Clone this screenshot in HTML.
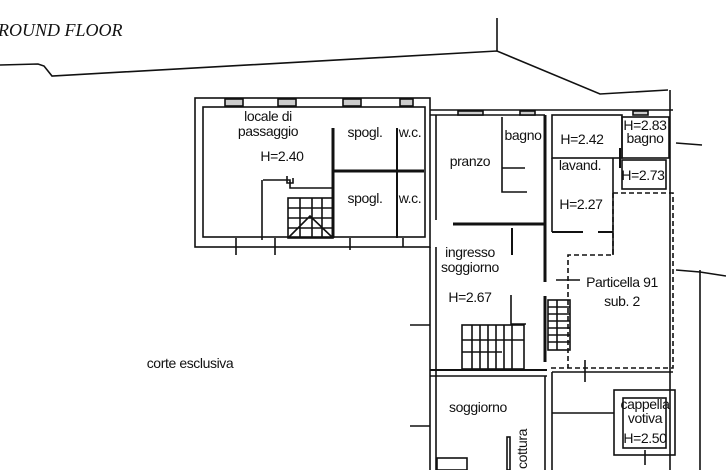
<!DOCTYPE html>
<html><head><meta charset="utf-8"><style>
html,body{margin:0;padding:0;background:#fff;width:726px;height:470px;overflow:hidden}
svg{display:block}
text{font-family:"Liberation Sans",sans-serif;font-size:14px;fill:#111;letter-spacing:-0.4px}
</style></head><body>
<svg width="726" height="470" viewBox="0 0 726 470" xmlns="http://www.w3.org/2000/svg">
<text x="-2" y="36" style="font-family:'Liberation Serif',serif;font-style:italic;font-size:18px;letter-spacing:0">ROUND FLOOR</text>
<g fill="none" stroke="#111" stroke-width="1.6">
<polyline points="0,65 38,64 44,66 52,76 497,51 600,94 668,90"/>
<line x1="497" y1="18" x2="497" y2="51"/>
<line x1="670" y1="90" x2="670" y2="470"/>
<line x1="700" y1="270" x2="700" y2="470"/>
<polyline points="676,270 700,272 726,276"/>
<line x1="676" y1="143" x2="702" y2="145"/>
<rect x="195" y="98" width="235" height="149"/>
<rect x="203" y="107" width="222" height="130"/>
<rect x="225" y="99" width="18" height="7" fill="#ccc"/>
<rect x="278" y="99" width="18" height="7" fill="#ccc"/>
<rect x="343" y="99" width="18" height="7" fill="#ccc"/>
<rect x="400" y="99" width="13" height="7" fill="#ccc"/>
<line x1="333" y1="128" x2="333" y2="238" stroke-width="3"/>
<line x1="333" y1="171" x2="424" y2="171" stroke-width="3"/>
<line x1="397" y1="128" x2="397" y2="238" stroke-width="2"/>
<line x1="262" y1="180" x2="262" y2="240"/>
<polyline points="287,176 287,183 293,183 293,178"/>
<polyline points="263,180 290,180 290,188 334,188"/>
<rect x="288" y="198" width="45" height="40"/>
<path d="M288,208h45M288,218h45M288,228h45M300,198v40M312,198v40M322,198v40M288,238l22,-22l23,22"/>
<line x1="236" y1="238" x2="236" y2="255"/><line x1="275" y1="238" x2="275" y2="255"/>
<line x1="350" y1="238" x2="350" y2="250"/>
<line x1="403" y1="238" x2="403" y2="247"/>
<polyline points="430,247 430,470"/>
<polyline points="436,247 436,470"/>
<line x1="430" y1="110" x2="673" y2="110"/>
<line x1="430" y1="115" x2="545" y2="115"/>
<line x1="436" y1="115" x2="436" y2="220"/>
<rect x="458" y="111" width="25" height="4" fill="#ccc"/>
<rect x="520" y="111" width="15" height="4" fill="#ccc"/>
<rect x="633" y="111" width="15" height="4" fill="#ccc"/>
<polyline points="502,117 502,192 527,192"/>
<line x1="502" y1="168" x2="525" y2="168"/>
<line x1="545" y1="115" x2="545" y2="282" stroke-width="3"/>
<line x1="453" y1="224" x2="545" y2="224" stroke-width="3"/>
<line x1="512" y1="228" x2="512" y2="255" stroke-width="2"/>
<rect x="552" y="115" width="70" height="43"/>
<line x1="552" y1="158" x2="552" y2="232"/>
<line x1="613" y1="158" x2="613" y2="255"/>
<line x1="552" y1="232" x2="583" y2="232" stroke-width="2"/>
<line x1="598" y1="232" x2="613" y2="232" stroke-width="2"/>
<rect x="622" y="117" width="47" height="41"/>
<line x1="620" y1="148" x2="620" y2="168" stroke-width="2"/>
<rect x="622" y="160" width="44" height="29"/>
<polyline points="613,193 673,193 673,368 548,368" stroke-dasharray="5,3"/>
<polyline points="613,193 613,255 568,255 568,368" stroke-dasharray="5,3"/>
<line x1="556" y1="280" x2="580" y2="280"/>
<rect x="548" y="300" width="22" height="50"/>
<path d="M548,307h22M548,314h22M548,321h22M548,328h22M548,335h22M548,342h22M557,300v50"/>
<line x1="545" y1="296" x2="545" y2="362" stroke-width="3"/>
<polyline points="511,295 511,324 526,324"/>
<rect x="462" y="325" width="62" height="44"/>
<path d="M472,325v44M480,325v44M488,325v44M496,325v44M504,325v44M512,325v44M462,340h62M462,352h40"/>
<line x1="430" y1="370" x2="547" y2="370" stroke-width="2"/>
<line x1="430" y1="376" x2="547" y2="376"/>
<line x1="410" y1="325" x2="430" y2="325"/>
<line x1="410" y1="426" x2="430" y2="426"/>
<line x1="545" y1="376" x2="545" y2="470"/>
<line x1="552" y1="372" x2="552" y2="470"/>
<line x1="552" y1="372" x2="673" y2="372"/>
<line x1="552" y1="413" x2="614" y2="413"/>
<line x1="585" y1="360" x2="585" y2="382"/>
<rect x="507" y="437" width="3" height="33"/>
<rect x="437" y="458" width="30" height="12"/>
<rect x="614" y="390" width="61" height="65"/>
<rect x="623" y="398" width="43" height="50"/>
<line x1="645" y1="450" x2="645" y2="465"/>
</g>
<text x="268" y="121" text-anchor="middle">locale di</text>
<text x="268" y="136" text-anchor="middle">passaggio</text>
<text x="282" y="161" text-anchor="middle">H=2.40</text>
<text x="365" y="137" text-anchor="middle">spogl.</text>
<text x="410" y="137" text-anchor="middle">w.c.</text>
<text x="365" y="203" text-anchor="middle">spogl.</text>
<text x="410" y="203" text-anchor="middle">w.c.</text>
<text x="470" y="166" text-anchor="middle">pranzo</text>
<text x="523" y="140" text-anchor="middle">bagno</text>
<text x="582" y="144" text-anchor="middle">H=2.42</text>
<text x="645" y="130" text-anchor="middle">H=2.83</text>
<text x="645" y="143" text-anchor="middle">bagno</text>
<text x="580" y="170" text-anchor="middle">lavand.</text>
<text x="643" y="180" text-anchor="middle">H=2.73</text>
<text x="581" y="209" text-anchor="middle">H=2.27</text>
<text x="470" y="257" text-anchor="middle">ingresso</text>
<text x="470" y="272" text-anchor="middle">soggiorno</text>
<text x="470" y="302" text-anchor="middle">H=2.67</text>
<text x="622" y="287" text-anchor="middle">Particella 91</text>
<text x="622" y="306" text-anchor="middle">sub. 2</text>
<text x="190" y="368" text-anchor="middle">corte esclusiva</text>
<text x="478" y="412" text-anchor="middle">soggiorno</text>
<text x="645" y="409" text-anchor="middle">cappella</text>
<text x="645" y="423" text-anchor="middle">votiva</text>
<text x="645" y="443" text-anchor="middle">H=2.50</text>
<text transform="translate(527,449) rotate(-90)" text-anchor="middle">cottura</text>
</svg>
</body></html>
